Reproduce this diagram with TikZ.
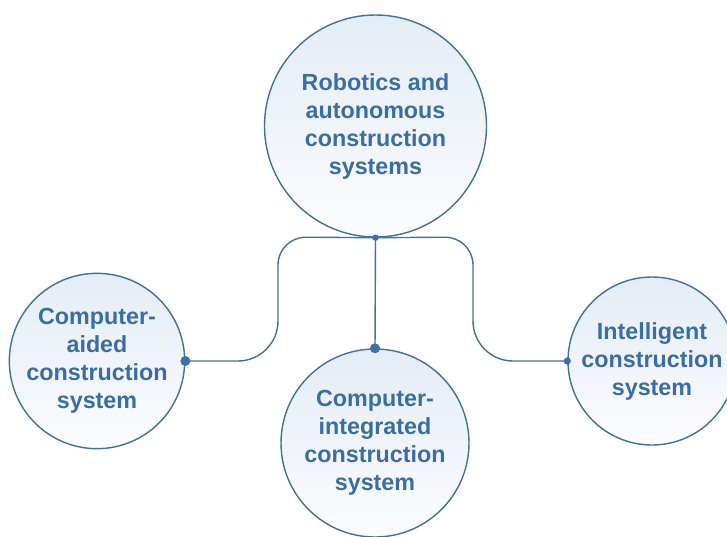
\documentclass[tikz,border=0pt]{standalone}
\usepackage{fontspec}
\setmainfont{Liberation Sans}
\definecolor{edge}{HTML}{3D70A8}
\definecolor{ink}{HTML}{3A6DA6}
\definecolor{shadetop}{HTML}{E4ECF5}
\definecolor{shadebot}{HTML}{FBFCFE}
\begin{document}
\begin{tikzpicture}[x=1pt,y=-1pt,
  topic/.style={circle, draw=edge, line width=1.4pt, top color=shadetop, bottom color=shadebot,
    inner sep=0pt, align=center, text=ink,
    font=\bfseries\fontsize{23.3}{28}\selectfont},
  link/.style={draw=edge, line width=1.4pt},
  knot/.style={fill=edge}]
\path[use as bounding box, clip] (0,0) rectangle (727,536);

% the four systems
\node[topic, minimum size=222pt] (robot) at (375.5,126) {Robotics and\\autonomous\\construction\\systems};
\node[topic, minimum size=168pt] (aided) at (97,361) {Computer-\\aided\\construction\\system};
\node[topic, minimum size=188pt] (integ) at (375,443) {Computer-\\integrated\\construction\\system};
\node[topic, minimum size=168pt] (intel) at (652,361) {Intelligent\\construction\\system};

% branches from the top circle
\coordinate (hub) at (robot.south);
\draw[link] (hub) [rounded corners=28pt] -- (278,237) [rounded corners=40pt] -- (278,361) -- (aided.east);
\draw[link] (hub) [rounded corners=28pt] -- (473,237) [rounded corners=40pt] -- (473,361) -- (intel.west);
\draw[link] (hub) -- (integ.north);

% junction dots
\fill[knot] (hub) circle (3.2pt);
\fill[knot] (integ.north) circle (5pt);
\fill[knot] (aided.east) circle (5pt);
\fill[knot] (intel.west) circle (3.6pt);
\end{tikzpicture}
\end{document}
